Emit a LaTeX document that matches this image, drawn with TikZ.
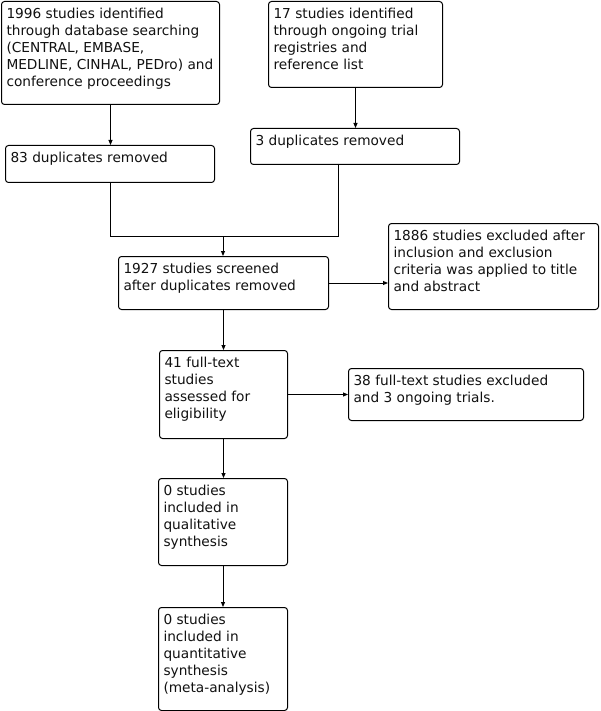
\documentclass[tikz,border=0pt]{standalone}
\usepackage{fontspec}
\usepackage{tikz}
\usepackage{xcolor}
\usetikzlibrary{positioning, arrows.meta}
\setmainfont{DejaVu Sans}
\definecolor{cLine}{HTML}{000000}
\definecolor{cText}{HTML}{111111}
% top-aligned text block of fixed size: width, height, text
\newcommand{\flowtext}[3]{\parbox[t][#2][t]{#1}{\raggedright #3}}

\begin{document}
\begin{tikzpicture}[x=1pt, y=-1pt,
    flowbox/.style={draw=cLine, line width=1pt, rounded corners=3pt, fill=white,
      anchor=north west, inner xsep=5pt, inner ysep=7pt, text=cText,
      font=\fontsize{13.7pt}{17pt}\selectfont},
    flowline/.style={draw=cLine, line width=1pt},
    flowarrow/.style={flowline, -{Triangle[length=5pt, width=4pt]}}]
  \useasboundingbox[fill=white] (0,0) rectangle (600,711);
  % identification
  \node[flowbox] (search) at (1,1) {\flowtext{208pt}{89pt}{1996 studies identified\\
    through database searching\\(CENTRAL, EMBASE,\\MEDLINE, CINHAL, PEDro) and\\
    conference proceedings}};
  \node[flowbox] (registry) at (268,1) {\flowtext{164pt}{72pt}{17 studies identified\\
    through ongoing trial\\registries and\\reference list}};
  \node[flowbox] (dupA) at (5,145) {\flowtext{199pt}{23pt}{83 duplicates removed}};
  \node[flowbox] (dupB) at (250,128) {\flowtext{199pt}{22pt}{3 duplicates removed}};
  % screening
  \node[flowbox] (screened) at (118,256) {\flowtext{200pt}{39pt}{1927 studies screened\\
    after duplicates removed}};
  \node[flowbox] (excluded) at (388,223) {\flowtext{200pt}{72pt}{1886 studies excluded after\\
    inclusion and exclusion\\criteria was applied to title\\and abstract}};
  % eligibility and inclusion
  \node[flowbox] (fulltext) at (159,350) {\flowtext{118pt}{74pt}{41 full-text\\studies\\
    assessed for\\eligibility}};
  \node[flowbox] (ftexcl) at (348,368) {\flowtext{225pt}{38pt}{38 full-text studies excluded\\
    and 3 ongoing trials.}};
  \node[flowbox] (qual) at (158,478) {\flowtext{119pt}{73pt}{0 studies\\included in\\
    qualitative\\synthesis}};
  \node[flowbox] (quant) at (158,607) {\flowtext{119pt}{89pt}{0 studies\\included in\\
    quantitative\\synthesis\\(meta-analysis)}};
  % connectors
  \coordinate (join) at (223,236);
  \coordinate (dupBfoot) at (338,164);
  \draw[flowarrow] (search.south) -- (search.south |- dupA.north);
  \draw[flowarrow] (registry.south) -- (registry.south |- dupB.north);
  \draw[flowline] (dupA.south) |- (join);
  \draw[flowline] (dupBfoot) |- (join);
  \draw[flowarrow] (join) -- (join |- screened.north);
  \draw[flowarrow] (screened.east) -- (screened.east -| excluded.west);
  \draw[flowarrow] (screened.south) -- (screened.south |- fulltext.north);
  \draw[flowarrow] (fulltext.east) -- (fulltext.east -| ftexcl.west);
  \draw[flowarrow] (fulltext.south) -- (fulltext.south |- qual.north);
  \draw[flowarrow] (qual.south) -- (qual.south |- quant.north);
\end{tikzpicture}
\end{document}
